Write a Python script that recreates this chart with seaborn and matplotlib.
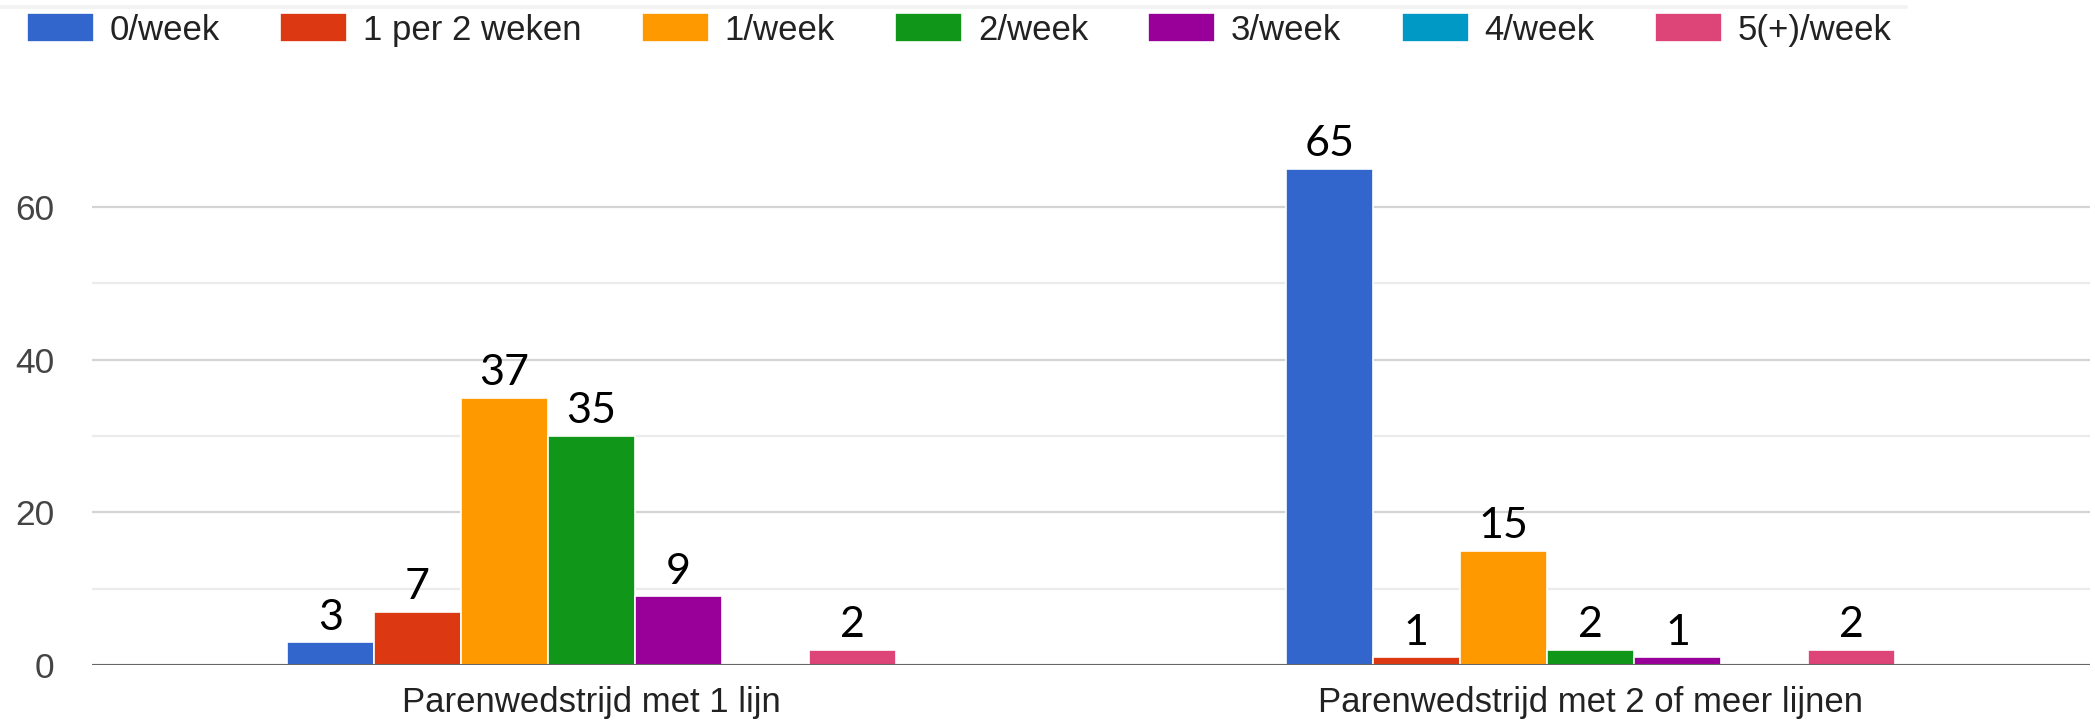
import pandas as pd
import numpy as np
import matplotlib.pyplot as plt
import seaborn as sns
from matplotlib.lines import Line2D

categories = ["Parenwedstrijd met 1 lijn", "Parenwedstrijd met 2 of meer lijnen"]
frequencies = ["0/week", "1 per 2 weken", "1/week", "2/week", "3/week", "4/week", "5(+)/week"]
colors = ["#3366cc", "#dc3912", "#ff9900", "#109618", "#990099", "#0099c6", "#dd4477"]

# bar heights as drawn in the chart
one_line = [3, 7, 35, 30, 9, 0, 2]
more_lines = [65, 1, 15, 2, 1, 0, 2]

# numbers typed on top of the bars (not always equal to the bar height)
one_line_labels = ["3", "7", "37", "35", "9", "", "2"]
more_lines_labels = ["65", "1", "15", "2", "1", "", "2"]

df = pd.DataFrame({
    "categorie": [categories[0]] * len(frequencies) + [categories[1]] * len(frequencies),
    "frequentie": frequencies * 2,
    "aantal": one_line + more_lines,
})

sns.set_style("white")
plt.rcParams["font.family"] = ["Liberation Sans", "DejaVu Sans"]

fig = plt.figure(figsize=(20.95, 7.28), dpi=100)
ax = fig.add_axes([0.0439, 0.0865, 0.9537, 0.734])

sns.barplot(data=df, x="categorie", y="aantal", hue="frequentie",
            order=categories, hue_order=frequencies, palette=colors,
            width=0.61, edgecolor="white", linewidth=1.2, saturation=1,
            ax=ax)

# labels on top of the bars
for i, cont in enumerate(ax.containers):
    ax.bar_label(cont, labels=[one_line_labels[i], more_lines_labels[i]],
                 padding=4, fontsize=31, fontfamily="Lato", color="black")

ax.set_xlim(-0.5, 1.5)
ax.set_ylim(0, 70)
ax.set_yticks([0, 20, 40, 60])
ax.set_yticks([10, 30, 50], minor=True)
ax.grid(axis="y", which="major", color="#d4d4d4", lw=1.6)
ax.grid(axis="y", which="minor", color="#ebebeb", lw=1.6)
ax.set_axisbelow(True)
ax.axhline(0, color="#666666", lw=2.2, zorder=5)

ax.set_xlabel("")
ax.set_ylabel("")
sns.despine(ax=ax, left=True, bottom=True)
ax.tick_params(which="both", length=0)
ax.tick_params(axis="y", pad=27, labelsize=25.5, labelcolor="#444444")
ax.tick_params(axis="x", pad=15, labelsize=25, labelcolor="#222222")

handles, labels = ax.get_legend_handles_labels()
ax.get_legend().remove()
fig.legend(handles, labels, loc="center left", bbox_to_anchor=(27 / 2095, 1 - 30 / 728),
           ncol=7, frameon=False, borderpad=0, borderaxespad=0,
           handlelength=1.93, handleheight=0.92, handletextpad=0.45,
           columnspacing=1.74, fontsize=25, labelcolor="#222222")

# faint line at the very top of the screenshot
fig.add_artist(Line2D([0, 0.91], [1 - 7 / 728, 1 - 7 / 728], color="#f3f3f3", lw=3))

fig.savefig("out.png", dpi=100)
